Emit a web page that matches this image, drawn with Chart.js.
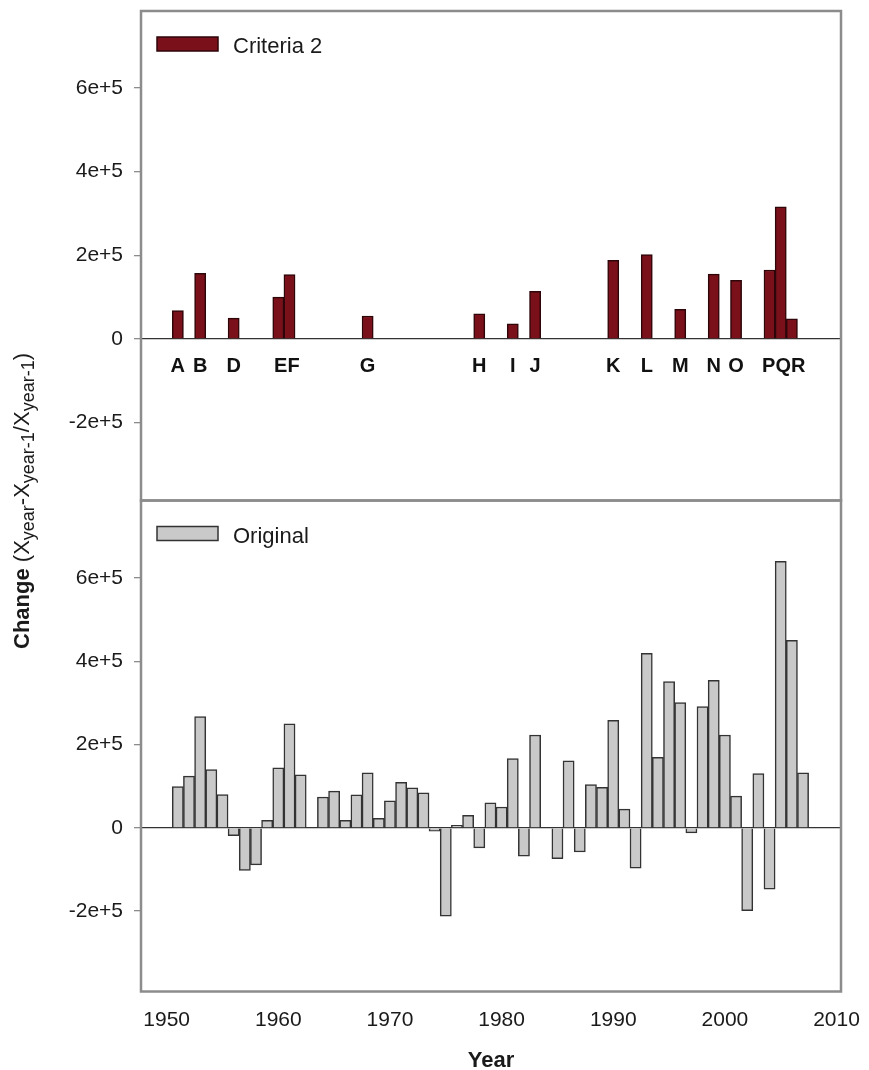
<!DOCTYPE html>
<html>
<head>
<meta charset="utf-8">
<script src="https://cdn.jsdelivr.net/npm/chart.js@4.4.1/dist/chart.umd.min.js"></script>
<style>
    body { margin: 0; background: #fff; }
    #page { position: relative; width: 869px; height: 1070px; overflow: hidden; }
    canvas { position: absolute; left: 0; }
    #yTitle {
        position: absolute; left: 22px; top: 501px;
        transform: translate(-50%, -50%) rotate(-90deg);
        white-space: nowrap; font-family: "Liberation Sans", Arial, sans-serif;
        font-size: 22px; color: #1a1a1a;
    }
    #yTitle sub { font-size: 18px; vertical-align: -5px; line-height: 0; }
</style>
</head>
<body>
<div id="page">
    <canvas id="topChart" width="869" height="510" style="top:0"></canvas>
    <canvas id="bottomChart" width="869" height="580" style="top:490px"></canvas>
    <div id="yTitle"><b>Change</b> (X<sub>year</sub>-X<sub>year-1</sub>/X<sub>year-1</sub>)</div>
</div>
<script>
// data
const critYears = [1951, 1953, 1956, 1960, 1961, 1968, 1978, 1981, 1983, 1990, 1993, 1996, 1999, 2001, 2004, 2005, 2006];
const critValues = [68000, 157000, 50000, 100000, 154000, 55000, 60000, 36000, 114000, 188000, 202000, 71000, 155000, 140000, 165000, 316000, 48000];
const critLetters = ['A', 'B', 'D', 'E', 'F', 'G', 'H', 'I', 'J', 'K', 'L', 'M', 'N', 'O', 'P', 'Q', 'R'];

const origYears = [1951, 1952, 1953, 1954, 1955, 1956, 1957, 1958, 1959, 1960,
    1961, 1962, 1963, 1964, 1965, 1966, 1967, 1968, 1969, 1970,
    1971, 1972, 1973, 1974, 1975, 1976, 1977, 1978, 1979, 1980,
    1981, 1982, 1983, 1984, 1985, 1986, 1987, 1988, 1989, 1990,
    1991, 1992, 1993, 1994, 1995, 1996, 1997, 1998, 1999, 2000,
    2001, 2002, 2003, 2004, 2005, 2006, 2007];
const origValues = [99000, 124000, 267000, 140000, 80000, -19000, -102000, -89000, 18000, 144000,
    250000, 127000, 0, 74000, 88000, 18000, 79000, 132000, 23000, 65000,
    109000, 96000, 84000, -8000, -212000, 6000, 30000, -48000, 60000, 50000,
    166000, -68000, 223000, 0, -74000, 161000, -58000, 104000, 97000, 258000,
    45000, -97000, 419000, 169000, 351000, 301000, -12000, 291000, 354000, 223000,
    76000, -199000, 130000, -147000, 640000, 450000, 132000];

const xTickValues = [1950, 1960, 1970, 1980, 1990, 2000, 2010];
const yTickValues = [-200000, 0, 200000, 400000, 600000];
const yTickLabels = ['-2e+5', '0', '2e+5', '4e+5', '6e+5'];

const FONT = '"Liberation Sans", Arial, sans-serif';

// frame round the plot area
const framePlugin = {
    id: 'frame',
    afterDraw(chart) {
        const a = chart.chartArea;
        const ctx = chart.ctx;
        ctx.save();
        ctx.strokeStyle = '#8c8c8c';
        ctx.lineWidth = 2.5;
        ctx.strokeRect(a.left, a.top, a.right - a.left, a.bottom - a.top);
        ctx.restore();
    }
};

// small legend in the top left corner of each panel
const panelLegendPlugin = {
    id: 'panelLegend',
    afterDraw(chart) {
        const a = chart.chartArea;
        const ctx = chart.ctx;
        const ds = chart.data.datasets[0];
        ctx.save();
        ctx.fillStyle = ds.backgroundColor;
        ctx.fillRect(a.left + 16, a.top + 26, 61, 14);
        ctx.strokeStyle = ds.borderColor;
        ctx.lineWidth = 1.5;
        ctx.strokeRect(a.left + 16, a.top + 26, 61, 14);
        ctx.fillStyle = '#1a1a1a';
        ctx.font = '22px ' + FONT;
        ctx.textBaseline = 'middle';
        ctx.fillText(ds.label, a.left + 92, a.top + 36);
        ctx.restore();
    }
};

// letters under the criteria bars, neighbouring years written as one word
const letterPlugin = {
    id: 'letters',
    afterDatasetsDraw(chart) {
        const xs = chart.scales.x;
        const ys = chart.scales.y;
        const ctx = chart.ctx;
        const groups = [];
        critYears.forEach((yr, i) => {
            const last = groups[groups.length - 1];
            if (last && yr - last.lastYear === 1) {
                last.text += critLetters[i];
                last.xs.push(xs.getPixelForValue(yr));
                last.lastYear = yr;
            } else {
                groups.push({ text: critLetters[i], xs: [xs.getPixelForValue(yr)], lastYear: yr });
            }
        });
        ctx.save();
        ctx.fillStyle = '#111';
        ctx.font = 'bold 20px ' + FONT;
        ctx.textAlign = 'center';
        ctx.textBaseline = 'middle';
        groups.forEach(g => {
            let x = g.xs.reduce((s, v) => s + v, 0) / g.xs.length;
            if (g.xs.length > 1) x += 3;
            ctx.fillText(g.text, x, ys.getPixelForValue(0) + 27);
        });
        ctx.restore();
    }
};

function yScale(min, max) {
    return {
        min: min,
        max: max,
        afterFit: (scale) => {
            scale.width = 141;
            scale.paddingTop = 0;
            scale.paddingBottom = 0;
        },
        afterBuildTicks: (scale) => { scale.ticks = yTickValues.map(v => ({ value: v })); },
        ticks: {
            color: '#1a1a1a',
            font: { family: FONT, size: 21 },
            padding: 11,
            callback: (value) => yTickLabels[yTickValues.indexOf(value)]
        },
        grid: {
            drawOnChartArea: true,
            color: (c) => (c.tick && c.tick.value === 0) ? '#333' : 'rgba(0,0,0,0)',
            tickColor: '#8c8c8c',
            tickLength: 7,
            lineWidth: 1.3
        },
        border: { display: false }
    };
}

function xScale(show) {
    return {
        type: 'linear',
        min: 1947.7,
        max: 2010.4,
        offset: false,
        display: show,
        afterFit: (scale) => {
            scale.height = show ? 78.5 : 0;
            scale.paddingLeft = 0;
            scale.paddingRight = 0;
        },
        afterBuildTicks: (scale) => { scale.ticks = xTickValues.map(v => ({ value: v })); },
        ticks: {
            color: '#1a1a1a',
            font: { family: FONT, size: 21 },
            padding: 16,
            maxRotation: 0,
            callback: (value) => String(value)
        },
        grid: { display: false, drawTicks: false },
        border: { display: false },
        title: {
            display: true,
            text: 'Year',
            color: '#1a1a1a',
            font: { family: FONT, size: 22, weight: 'bold', lineHeight: 0.8 },
            padding: { top: 0, bottom: 0 }
        }
    };
}

function commonOptions() {
    return {
        responsive: false,
        animation: false,
        devicePixelRatio: 1,
        plugins: { legend: { display: false }, tooltip: { enabled: false } },
        datasets: { bar: { barPercentage: 1, categoryPercentage: 1 } }
    };
}

const topOptions = commonOptions();
topOptions.layout = { padding: { top: 11, right: 28, bottom: 9.5, left: 0 } };
topOptions.scales = { x: xScale(false), y: yScale(-386000, 784000) };

new Chart(document.getElementById('topChart'), {
    type: 'bar',
    data: {
        datasets: [{
            label: 'Criteria 2',
            data: critYears.map((yr, i) => ({ x: yr, y: critValues[i] })),
            backgroundColor: '#7a1019',
            borderColor: '#2e060a',
            borderWidth: 1.5
        }]
    },
    options: topOptions,
    plugins: [framePlugin, panelLegendPlugin, letterPlugin]
});

const bottomOptions = commonOptions();
bottomOptions.layout = { padding: { top: 10.5, right: 28, bottom: 0, left: 0 } };
bottomOptions.scales = { x: xScale(true), y: yScale(-393000, 786000) };

new Chart(document.getElementById('bottomChart'), {
    type: 'bar',
    data: {
        datasets: [{
            label: 'Original',
            data: origYears.map((yr, i) => ({ x: yr, y: origValues[i] })),
            backgroundColor: '#c9c9c9',
            borderColor: '#333333',
            borderWidth: 1.5
        }]
    },
    options: bottomOptions,
    plugins: [framePlugin, panelLegendPlugin]
});
</script>
</body>
</html>
